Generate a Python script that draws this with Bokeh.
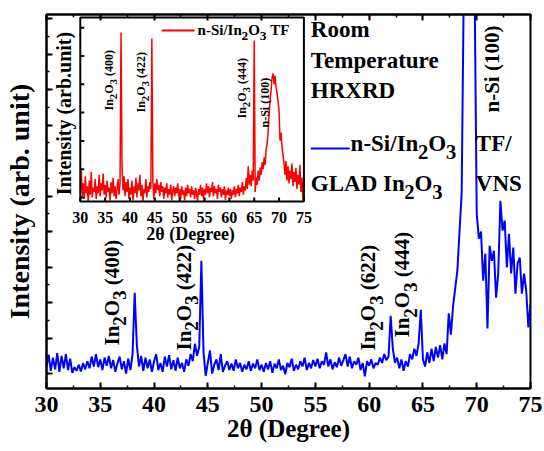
import numpy as np
from math import pi
from bokeh.plotting import figure
from bokeh.models import LinearAxis, SingleIntervalTicker, Range1d, CustomLabelingPolicy
from bokeh.core.properties import value
from bokeh.embed import file_html
from bokeh.resources import INLINE

# ---------------- data ----------------
two_theta = np.round(np.arange(30.0, 75.0001, 0.2), 1)   # 2theta grid, 0.2 deg step

# main pattern: n-Si/In2O3 TF / GLAD In2O3 VNS (arb. units)
main_intensity = [
    20, 52, 8, 45, 12, 58, 5, 50, 15, 55, 10, 42, 2, 18, 8, 25, 6, 30, 12, 35, 15, 48, 20, 55, 18,
    40, 10, 45, 22, 50, 15, 38, 5, 30, 48, 12, 35, 0, 42, 10, 55, 228, 80, 20, 50, 8, 45, 15, 40, 5,
    35, 55, 10, 30, 5, 48, 20, 52, 12, 38, 8, 45, 15, 30, 5, 40, 22, 55, 35, 84, 50, 75, 318, 60, -6,
    30, 65, 0, 25, 40, 10, 55, 5, 22, 35, 10, 28, 8, 40, 15, 30, 5, 25, 12, 35, 8, 28, 15, 40, 10,
    25, 5, 30, 12, 35, 2, 28, 15, 40, 10, 22, -2, 30, 18, 42, 8, 25, 12, 35, 20, 45, 10, 30, 15, 38,
    20, 42, 15, 35, 25, 60, 20, 40, 12, 32, 18, 45, 22, 38, 55, 20, 48, 15, 35, 25, 45, 10, 30, -8, 35,
    22, 40, 15, 30, 25, 45, 30, 55, 38, 48, 163, 70, 30, 45, 15, 40, 8, 35, 20, 55, 40, 70, 50, 85, 180,
    40, 20, 60, 30, 70, 35, 75, 45, 80, 40, 85, 55, 170, 110, 190, 240, 290, 400, 507, 1100, 1300, 1300, 1300, 1250, 1100,
    450, 380, 400, 262, 338, 127, 360, 318, 346, 214, 282, 487, 403, 431, 299, 394, 282, 355, 225, 310, 327, 225, 282, 234, 130, 197,
]

# inset pattern: n-Si/In2O3 TF (arb. units)
inset_intensity = [
    20, 95, 5, 50, -5, 75, 15, 40, -15, 60, 10, 90, 0, 35, 20, 65, -5, 40, 15, 80, 5, 50, 25, 85, 10,
    45, 0, 60, 20, 35, -10, 55, 15, 70, 5, 40, -5, 30, 65, 10, 50, 583, 110, 25, 75, 5, 55, 20, 65, -5,
    35, 10, 60, -10, 40, 15, 70, 0, 50, 25, 80, 5, 45, -15, 30, 15, 65, 0, 40, 20, 55, 30, 562, 60, -5,
    50, 15, 65, 25, 45, 5, 55, 20, 40, -5, 35, 15, 50, 0, 30, 10, 45, -10, 25, 40, 5, 35, 15, 50, 0,
    30, -5, 40, 10, 25, -10, 35, 5, 45, 15, 30, 0, 40, 10, 25, -5, 35, 15, -12, 30, 10, 45, 5, 35, -5,
    30, 10, 50, 15, 40, 0, 35, 20, 55, 5, 40, 15, 30, -5, 45, 20, 35, 0, 30, 10, 40, -8, 25, 10, 35,
    5, 30, -5, 25, 10, 40, 0, 30, 15, 45, 5, 35, 20, 55, 10, 40, 25, 70, 30, 110, 45, 80, 40, 95, 60,
    555, 20, 70, 45, 95, 60, 106, 80, 125, 100, 141, 115, 170, 191, 230, 297, 343, 380, 424, 438, 400, 430, 389, 367, 340,
    307, 201, 230, 177, 150, 120, 80, 130, 60, 110, 50, 95, 65, 120, 40, 90, 55, 105, 30, 80, 45, 115, 20, 70, -10, 70,
]

x_start, x_end = 30, 75
main_y_range = (-42, 1012)
inset_y_range = (-14, 636)
inset_x_ticks = [30, 35, 40, 45, 50, 55, 60, 65, 70, 75]
inset_x_tick_labels = ["30", "35", "40", "45", "50", "55", "60", "65", "70", "75"]
inset_y_ticks = [0, 100, 200, 300, 400, 500, 600]

FONT = "Liberation Serif"
BLUE = "#0000ff"
RED = "#ff0000"
NB = "\u00a0"

# advance widths (em) of the bold serif face, used to chain subscript pieces
W = {" ": .25, NB: .25, "(": .333, ")": .333, "-": .333, "/": .278, "0": .5, "1": .5, "2": .5,
     "3": .5, "4": .5, "6": .5, "I": .389, "n": .556, "O": .778, "S": .556, "i": .278,
     "T": .667, "F": .611, "G": .778, "L": .667, "A": .722, "D": .722}
BASE_CORR = 0.43   # em: observed offset of the rendered baseline below the anchor

HIDE = CustomLabelingPolicy(code="return []")

# ---------------- layout geometry (page pixels) ----------------
ML, MR, MT, MB = 43, 530, 14, 388      # main frame
IL, IR, IT, IB = 77, 302, 17, 201      # inset frame


def make_mapper(left, right, top, bottom, xr, yr):
    fx = lambda px: xr[0] + (px - left) * (xr[1] - xr[0]) / (right - left)
    fy = lambda py: yr[0] + (bottom - py) * (yr[1] - yr[0]) / (bottom - top)
    return fx, fy


fx, fy = make_mapper(ML, MR, MT, MB, (x_start, x_end), main_y_range)       # page px -> main data
gx, gy = make_mapper(IL, IR, IT, IB, (x_start, x_end), inset_y_range)      # page px -> inset data

# ---------------- main figure ----------------
main = figure(width=544, height=451, x_range=Range1d(x_start, x_end), y_range=Range1d(*main_y_range),
              output_backend="svg", toolbar_location=None,
              min_border_left=ML, min_border_right=544 - MR, min_border_top=MT, min_border_bottom=451 - MB,
              x_axis_label="2θ (Degree)", y_axis_label="Intensity (arb. unit)")
main.xgrid.visible = False
main.ygrid.visible = False
main.outline_line_color = "black"
main.outline_line_width = 2
main.background_fill_color = "white"
main.border_fill_color = "white"

# inset data ranges, set so that the inset axes land on the inset box
main.extra_x_ranges = {"ix": Range1d(gx(ML), gx(MR))}
main.extra_y_ranges = {"iy": Range1d(gy(MB), gy(MT))}


def style_axis(ax, tick_in=6, minor_in=3, width=2):
    ax.axis_line_width = width
    ax.major_tick_in = tick_in
    ax.major_tick_out = 0
    ax.minor_tick_in = minor_in
    ax.minor_tick_out = 0
    ax.major_tick_line_width = width
    ax.minor_tick_line_width = 1.5
    ax.major_label_text_font = FONT
    ax.major_label_text_font_style = "bold"
    ax.axis_label_text_font = FONT
    ax.axis_label_text_font_style = "bold"
    ax.major_label_text_color = "black"
    ax.axis_label_text_color = "black"


def hide_labels(ax):
    ax.major_label_policy = HIDE
    ax.major_label_text_font_size = "1px"
    ax.major_label_standoff = 0


main.xaxis.ticker = SingleIntervalTicker(interval=5, num_minor_ticks=2)
main.yaxis.ticker = SingleIntervalTicker(interval=100, num_minor_ticks=2)
for ax in main.xaxis:
    style_axis(ax)
    ax.major_label_text_font_size = "24px"
    ax.major_label_standoff = 8
    ax.axis_label_text_font_size = "25px"
    ax.axis_label_standoff = 0
for ax in main.yaxis:
    style_axis(ax)
    hide_labels(ax)
    ax.axis_label_text_font_size = "28px"
    ax.axis_label_standoff = 7

top_axis = LinearAxis(ticker=SingleIntervalTicker(interval=5, num_minor_ticks=2))
style_axis(top_axis)
hide_labels(top_axis)
main.add_layout(top_axis, "above")


def put(x, y, text, size, align="left", rot=False, **kw):
    main.text(x=[x], y=[y], text=[text], angle=pi / 2 if rot else 0,
              text_font=value(FONT), text_font_style="bold", text_font_size=f"{size:.1f}px",
              text_align=align, text_baseline="alphabetic", text_color="black", **kw)


def rich(px, py, segs, size, rot=False, align="left", sub_scale=0.9, sub_shift=0.33):
    """px, py: page pixel of the baseline start of the first piece (main coordinates)."""
    pos = 0.0
    for txt, sub in segs:
        s = size * sub_scale if sub else size
        shift = (size * sub_shift if sub else 0.0) - BASE_CORR * s
        if rot:
            X, Y = px + shift, py - pos
        else:
            X, Y = px + pos, py + shift
        put(fx(X), fy(Y), txt, s, align=align, rot=rot)
        pos += sum(W.get(c, .5) for c in txt) * s


# ---- main pattern ----
main.line(two_theta, main_intensity, line_color=BLUE, line_width=2)

peak_segs = lambda hkl: [("In", 0), ("2", 1), ("O", 0), ("3", 1), (f"{NB}({hkl})", 0)]
rich(118, 345, peak_segs("400"), 21, rot=True)
rich(190, 350, peak_segs("422"), 21, rot=True)
rich(376, 350, peak_segs("622"), 21, rot=True)
rich(410, 337, peak_segs("444"), 21, rot=True)
rich(500, 112, [("n-Si (100)", 0)], 21, rot=True)

for txt, yb in [("Room", 39), ("Temperature", 70), ("HRXRD", 100)]:
    rich(309, yb, [(txt, 0)], 23)
main.line([fx(309), fx(348)], [fy(148), fy(148)], line_color=BLUE, line_width=2)
rich(349, 153, [("n-Si/In", 0), ("2", 1), ("O", 0), ("3", 1)], 23)
rich(475, 153, [("TF/", 0)], 23)
rich(309, 193, [("GLAD In", 0), ("2", 1), ("O", 0), ("3", 1)], 23)
rich(475, 193, [("VNS", 0)], 23)

# ---- inset (its own ranges "ix"/"iy") ----
IR_KW = dict(x_range_name="ix", y_range_name="iy")
main.quad(left=[x_start], right=[x_end], bottom=[inset_y_range[0]], top=[inset_y_range[1]],
          fill_color="white", line_color=None, **IR_KW)
main.line(two_theta, inset_intensity, line_color=RED, line_width=1.5, **IR_KW)

tick_dy = gy(IB - 4) - gy(IB)          # 4 px inward tick, in inset y units
tick_dx = gx(IL + 4) - gx(IL)          # 4 px inward tick, in inset x units
main.segment(x0=inset_x_ticks, y0=[inset_y_range[0]] * len(inset_x_ticks),
             x1=inset_x_ticks, y1=[inset_y_range[0] + tick_dy] * len(inset_x_ticks),
             line_color="black", line_width=2, **IR_KW)
main.segment(x0=[x_start] * len(inset_y_ticks), y0=inset_y_ticks,
             x1=[x_start + tick_dx] * len(inset_y_ticks), y1=inset_y_ticks,
             line_color="black", line_width=2, **IR_KW)
main.quad(left=[x_start], right=[x_end], bottom=[inset_y_range[0]], top=[inset_y_range[1]],
          fill_color=None, line_color="black", line_width=2, **IR_KW)

# inset tick labels and axis titles
main.text(x=inset_x_ticks, y=[gy(224 - BASE_CORR * 16)] * len(inset_x_ticks), text=inset_x_tick_labels,
          text_font=value(FONT), text_font_style="bold", text_font_size="16px",
          text_align="center", text_baseline="alphabetic", text_color="black", **IR_KW)
rich(188, 241, [("2θ (Degree)", 0)], 18, align="center")
rich(69, 113, [("Intensity (arb.unit)", 0)], 20, rot=True, align="center")

rich(111, 110, peak_segs("400"), 12, rot=True)
rich(143, 112, peak_segs("422"), 12, rot=True)
rich(245, 118, peak_segs("444"), 12, rot=True)
rich(268, 127, [("n-Si (100)", 0)], 12, rot=True)
main.line([fx(159), fx(192)], [fy(30), fy(30)], line_color=RED, line_width=2)
rich(195, 36, [("n-Si/In", 0), ("2", 1), ("O", 0), ("3", 1), (f"{NB}TF", 0)], 15)

p = main
open("out.html", "w").write(file_html(p, INLINE))
